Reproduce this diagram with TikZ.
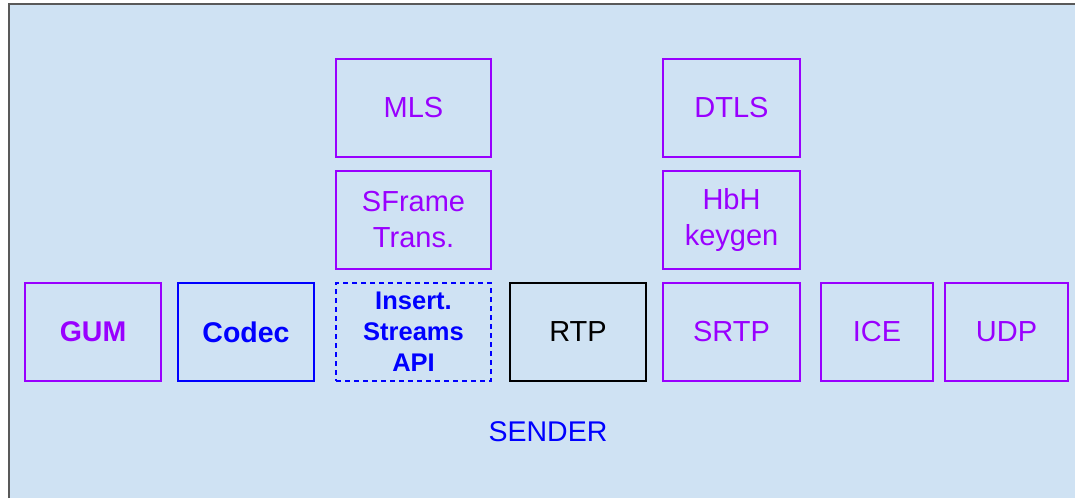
\documentclass[tikz,border=0pt]{standalone}
\usepackage{fontspec}
\setmainfont{Liberation Sans}
\definecolor{bgblue}{HTML}{CFE2F3}
\definecolor{frameg}{HTML}{595959}
\definecolor{vio}{HTML}{9900FF}
\definecolor{pureblue}{HTML}{0000FF}
\begin{document}
\begin{tikzpicture}[x=1pt,y=-1pt,
  box/.style={draw, line width=2pt, inner sep=0pt, align=center,
    minimum height=98pt, font=\fontsize{29}{36}\selectfont},
  vbox/.style={box, draw=vio, text=vio},
  bbox/.style={box, draw=pureblue, text=pureblue},
  boldf/.style={font=\fontsize{28.5}{34}\selectfont\bfseries},
]
\useasboundingbox (0,0) rectangle (1075,498);
\fill[bgblue] (9,4) rectangle (1075,498);
\draw[frameg, line width=2.2pt] (9,498) -- (9,4) -- (1075,4);

\node[vbox, boldf, minimum width=136pt] (gum) at (93,332) {GUM};
\node[bbox, boldf, minimum width=136pt] (codec) at (246,332) {Codec};
\node[bbox, dashed, dash pattern=on 5pt off 4pt, minimum width=155pt,
  font=\fontsize{25.5}{31}\selectfont\bfseries] (ins) at (413.5,332) {Insert.\\Streams\\API};
\node[box, draw=black, text=black, minimum width=136pt] (rtp) at (578,332) {RTP};
\node[vbox, minimum width=137pt] (srtp) at (731.5,332) {SRTP};
\node[vbox, minimum width=112pt] (ice) at (877,332) {ICE};
\node[vbox, minimum width=123pt] (udp) at (1006.5,332) {UDP};

\node[vbox, minimum width=155pt] (mls) at (413.5,108) {MLS};
\node[vbox, minimum width=155pt] (sframe) at (413.5,220) {SFrame\\Trans.};
\node[vbox, minimum width=137pt] (dtls) at (731.5,108) {DTLS};
\node[vbox, minimum width=137pt] (hbh) at (731.5,220) {HbH\\keygen};

\node[text=pureblue, font=\fontsize{28.5}{34}\selectfont, inner sep=0pt] (sender) at (548,432) {SENDER};
\end{tikzpicture}
\end{document}
